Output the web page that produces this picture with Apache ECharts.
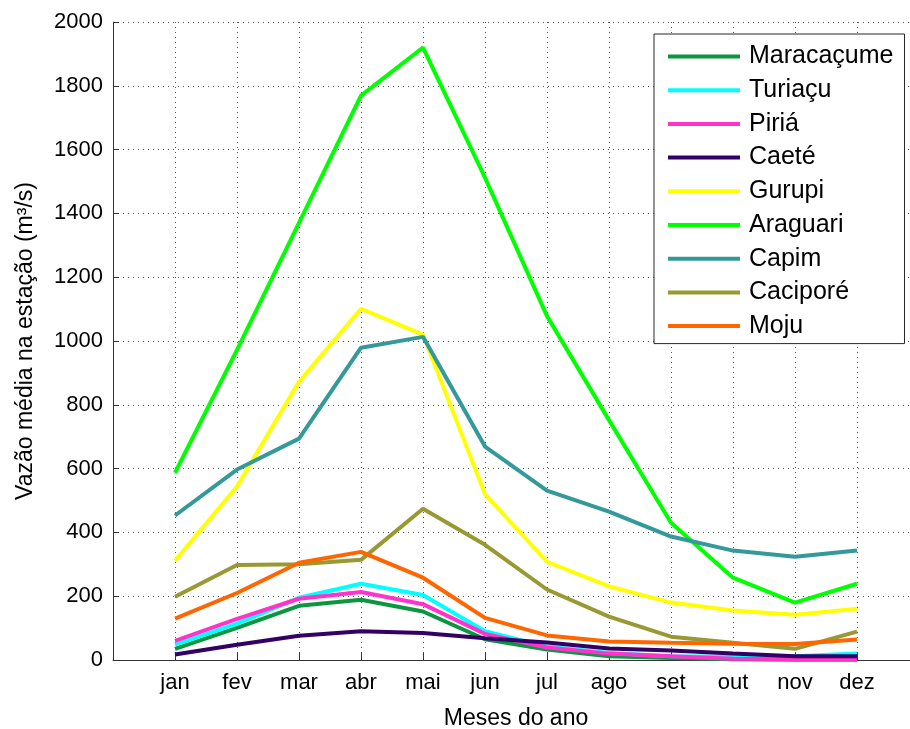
<!DOCTYPE html>
<html>
<head>
<meta charset="utf-8">
<script src="https://cdn.jsdelivr.net/npm/echarts@6/dist/echarts.min.js"></script>
<style>
html,body{margin:0;padding:0;background:#fff;}
#chart{width:910px;height:729px;}
</style>
</head>
<body>
<div id="chart"></div>
<script>
var months = ['jan','fev','mar','abr','mai','jun','jul','ago','set','out','nov','dez'];
var yTicks = [0,200,400,600,800,1000,1200,1400,1600,1800,2000];

var maracacume = [35, 101, 170, 189, 152, 65, 33, 12, 6, 2, 1, 1];
var turiacu    = [48, 114, 195, 239, 204, 90, 42, 22, 12, 10, 12, 20];
var piria      = [60, 129, 192, 213, 175, 82, 39, 20, 12, 4, 3, 3];
var caete      = [17, 48, 76, 90, 85, 68, 55, 36, 30, 20, 12, 12];
var gurupi     = [311, 544, 872, 1101, 1020, 520, 308, 231, 180, 155, 142, 161];
var araguari   = [587, 972, 1370, 1769, 1920, 1512, 1078, 752, 430, 258, 180, 239];
var capim      = [453, 597, 694, 979, 1013, 669, 531, 465, 387, 343, 324, 343];
var cacipore   = [198, 298, 300, 314, 474, 361, 221, 136, 73, 54, 35, 89];
var moju       = [130, 210, 305, 339, 258, 132, 77, 58, 54, 51, 50, 64];

var seriesNames = ['Maracaçume','Turiaçu','Piriá','Caeté','Gurupi','Araguari','Capim','Caciporé','Moju'];
var seriesData = [maracacume, turiacu, piria, caete, gurupi, araguari, capim, cacipore, moju];
var colors = ['#0d9640','#00ffff','#ff33cc','#330066','#ffff00','#00ff00','#339999','#999933','#ff6600'];

var FONT = '"Liberation Sans", Arial, Helvetica, sans-serif';
var chart = echarts.init(document.getElementById('chart'), null, {renderer:'canvas'});

var series = seriesNames.map(function(name, i){
  return {
    name: name,
    type: 'line',
    data: seriesData[i].map(function(v, j){ return [j + 1, v]; }),
    showSymbol: false,
    symbol: 'none',
    lineStyle: {width: 4, color: colors[i]},
    itemStyle: {color: colors[i]},
    animation: false
  };
});

chart.setOption({
  animation: false,
  backgroundColor: '#fff',
  textStyle: {fontFamily: FONT},
  grid: {left: 113, top: 22, width: 806, height: 638, containLabel: false, outerBoundsMode: 'none'},
  xAxis: {
    type: 'value', min: 0, max: 13, interval: 1,
    name: 'Meses do ano', nameLocation: 'middle', nameGap: 47,
    nameTextStyle: {fontSize: 23, color: '#000', fontFamily: FONT},
    axisLine: {show: true, lineStyle: {color: '#333', width: 1}},
    axisTick: {show: true, inside: true, length: 7, lineStyle: {color: '#333'}},
    axisLabel: {
      fontSize: 22, color: '#000', margin: 12, fontFamily: FONT,
      formatter: function(v){ return months[v - 1] || ''; }
    },
    splitLine: {show: true, lineStyle: {color: '#555', type: [1, 4], width: 1}}
  },
  yAxis: {
    type: 'value', min: 0, max: 2000, interval: 200,
    name: 'Vazão média na estação (m³/s)', nameLocation: 'middle', nameGap: 76,
    nameTextStyle: {fontSize: 23, color: '#000', fontFamily: FONT},
    axisLine: {show: true, lineStyle: {color: '#333', width: 1}},
    axisTick: {show: true, inside: true, length: 6, lineStyle: {color: '#333'}},
    axisLabel: {
      fontSize: 22, color: '#000', margin: 10, fontFamily: FONT,
      formatter: function(v){ return yTicks.indexOf(v) >= 0 ? String(v) : ''; }
    },
    splitLine: {show: true, lineStyle: {color: '#555', type: [1, 4], width: 1}}
  },
  legend: {
    show: true,
    orient: 'vertical',
    left: 654, top: 34,
    data: seriesNames,
    icon: 'rect',
    itemWidth: 72, itemHeight: 4,
    itemGap: 5.7,
    padding: [8.5, 11, 3.5, 14],
    backgroundColor: '#fff',
    borderColor: '#262626', borderWidth: 1,
    textStyle: {fontSize: 25, color: '#000', lineHeight: 28, padding: [0, 0, 0, 4], fontFamily: FONT}
  },
  series: series
});
</script>
</body>
</html>
